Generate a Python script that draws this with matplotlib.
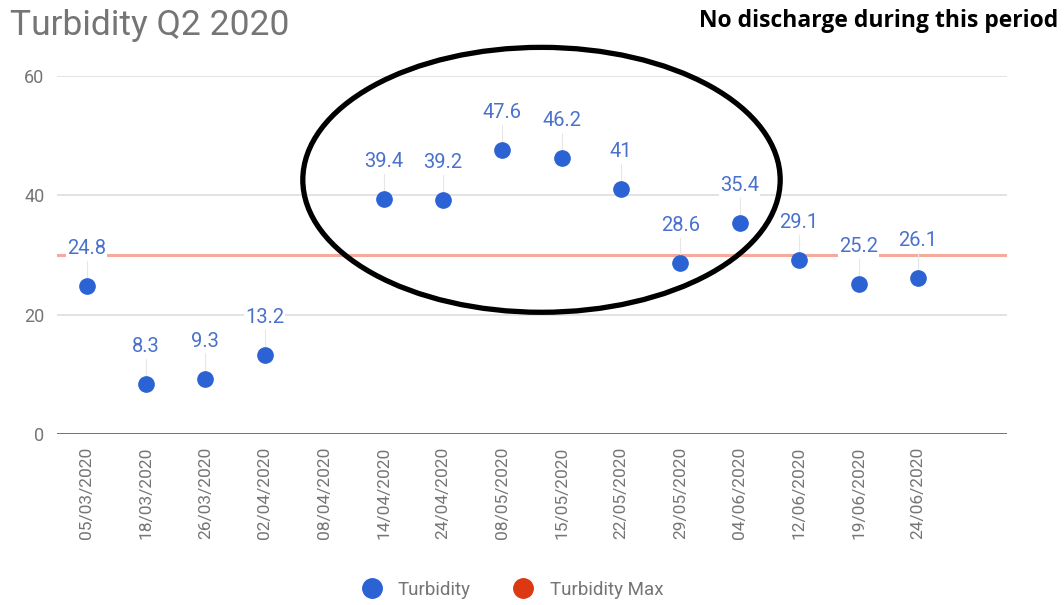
import matplotlib
matplotlib.use("Agg")
import matplotlib.pyplot as plt
from matplotlib.patches import Ellipse
from matplotlib.lines import Line2D
import numpy as np

# Sample dates and turbidity readings (NaN = no reading)
dates = ["05/03/2020", "18/03/2020", "26/03/2020", "02/04/2020", "08/04/2020",
         "14/04/2020", "24/04/2020", "08/05/2020", "15/05/2020", "22/05/2020",
         "29/05/2020", "04/06/2020", "12/06/2020", "19/06/2020", "24/06/2020"]
turbidity = [24.8, 8.3, 9.3, 13.2, np.nan, 39.4, 39.2, 47.6, 46.2, 41,
             28.6, 35.4, 29.1, 25.2, 26.1]
turbidity_max = 30
y_ticks = [0, 20, 40, 60]

blue = "#2b62d4"
label_blue = "#4a72cc"
red_line = "#f4ab9e"
red_legend = "#dc3912"
gray_text = "#757575"

plt.rcParams["font.family"] = ["Roboto", "DejaVu Sans"]

fig = plt.figure(figsize=(10.64, 6.05), dpi=100)
ax = fig.add_axes([57 / 1064, 1 - 434 / 605, 950 / 1064, (434 - 76) / 605])

x = np.arange(len(dates))
ax.set_xlim(-0.5, len(dates) + 0.5)
ax.set_ylim(0, 60)

# grid
for t in y_ticks[1:]:
    ax.axhline(t, color="#e0e0e0", lw=1.3, zorder=0)
ax.axhline(0, color="#666666", lw=2, zorder=1)

# max line
ax.axhline(turbidity_max, color=red_line, lw=2.2, zorder=2)

# points
ax.plot(x, turbidity, "o", color=blue, markersize=11, zorder=4, linestyle="none")

# data labels with leader lines
for xi, v in zip(x, turbidity):
    if np.isnan(v):
        continue
    ax.plot([xi, xi], [v, v + 4.2], color="#e6e6e6", lw=0.8, zorder=3)
    ax.annotate(f"{v:g}", (xi, v), xytext=(0, 27), textcoords="offset points",
                ha="center", va="center", fontsize=14.5, color=label_blue, zorder=5,
                bbox=dict(boxstyle="square,pad=0.05", fc="white", ec="none"))

ax.set_yticks(y_ticks)
ax.set_yticklabels([str(t) for t in y_ticks], fontsize=13, color=gray_text)
ax.set_xticks(x)
ax.set_xticklabels(dates, rotation=90, fontsize=12.5, color=gray_text)
ax.tick_params(length=0, pad=9)
for s in ax.spines.values():
    s.set_visible(False)

# circled period
ell = Ellipse((7.66, 42.6), 8.04, 44.4, fill=False, ec="black", lw=3.8,
              clip_on=False, zorder=6)
ax.add_patch(ell)

fig.text(10 / 1064, 1 - 25 / 605, "Turbidity Q2 2020", fontsize=25.5,
         color=gray_text, va="center", ha="left")
fig.text(1058 / 1064, 1 - 21 / 605, "No discharge during this period",
         fontsize=16.5, fontweight="bold", family=["Open Sans", "DejaVu Sans"],
         color="black", va="center", ha="right")

handles = [Line2D([], [], marker="o", color=blue, linestyle="none", markersize=14),
           Line2D([], [], marker="o", color=red_legend, linestyle="none", markersize=14)]
fig.legend(handles, ["Turbidity", "Turbidity Max"], loc="center",
           bbox_to_anchor=(508 / 1064, 1 - 590 / 605), ncol=2, frameon=False,
           fontsize=13.5, labelcolor=gray_text, handletextpad=0.4, columnspacing=1.8)

fig.savefig("out.png", dpi=100)
